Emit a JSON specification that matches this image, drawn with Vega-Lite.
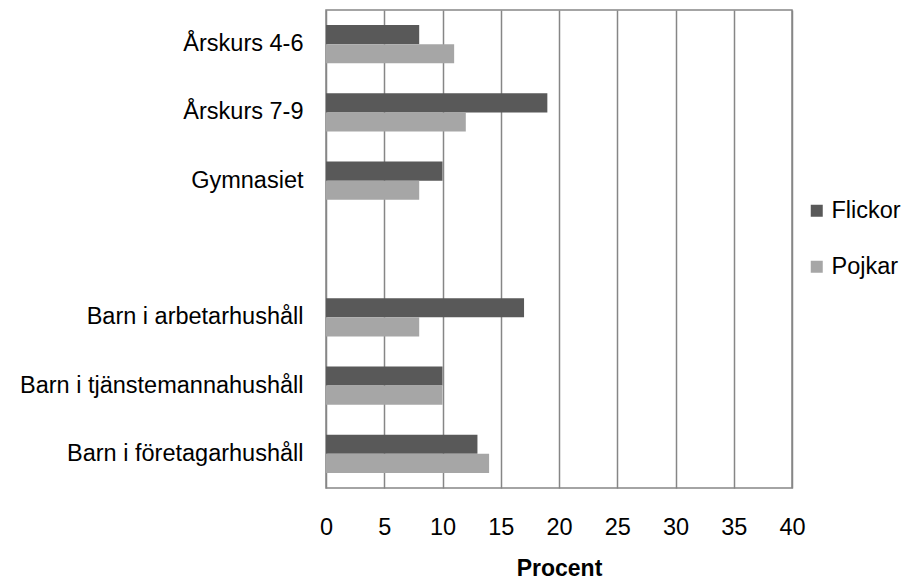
{
  "$schema": "https://vega.github.io/schema/vega-lite/v6.json",
  "width": 466,
  "height": 478,
  "autosize": {"type": "none"},
  "padding": {"left": 326, "top": 10, "right": 109, "bottom": 94},
  "background": "white",
  "data": {
    "values": [
      {"grupp": "Årskurs 4-6", "kon": "Flickor", "procent": 8},
      {"grupp": "Årskurs 4-6", "kon": "Pojkar", "procent": 11},
      {"grupp": "Årskurs 7-9", "kon": "Flickor", "procent": 19},
      {"grupp": "Årskurs 7-9", "kon": "Pojkar", "procent": 12},
      {"grupp": "Gymnasiet", "kon": "Flickor", "procent": 10},
      {"grupp": "Gymnasiet", "kon": "Pojkar", "procent": 8},
      {"grupp": "Barn i arbetarhushåll", "kon": "Flickor", "procent": 17},
      {"grupp": "Barn i arbetarhushåll", "kon": "Pojkar", "procent": 8},
      {"grupp": "Barn i tjänstemannahushåll", "kon": "Flickor", "procent": 10},
      {"grupp": "Barn i tjänstemannahushåll", "kon": "Pojkar", "procent": 10},
      {"grupp": "Barn i företagarhushåll", "kon": "Flickor", "procent": 13},
      {"grupp": "Barn i företagarhushåll", "kon": "Pojkar", "procent": 14}
    ]
  },
  "config": {
    "font": "Liberation Sans",
    "view": {"stroke": "#868686", "strokeWidth": 1.5}
  },
  "mark": {"type": "bar"},
  "encoding": {
    "y": {
      "field": "grupp",
      "type": "nominal",
      "scale": {
        "domain": ["Årskurs 4-6", "Årskurs 7-9", "Gymnasiet", " ", "Barn i arbetarhushåll", "Barn i tjänstemannahushåll", "Barn i företagarhushåll"],
        "paddingInner": 0.44,
        "paddingOuter": 0.22
      },
      "axis": {
        "title": null,
        "ticks": false,
        "domain": false,
        "grid": false,
        "labelPadding": 23,
        "labelLimit": 0,
        "labelFontSize": 23.5,
        "labelColor": "#000000",
        "labelFont": "Liberation Sans"
      }
    },
    "yOffset": {
      "field": "kon",
      "type": "nominal",
      "sort": ["Flickor", "Pojkar"],
      "scale": {"paddingInner": 0, "paddingOuter": 0}
    },
    "x": {
      "field": "procent",
      "type": "quantitative",
      "scale": {"domain": [0, 40], "nice": false},
      "axis": {
        "title": "Procent",
        "values": [0, 5, 10, 15, 20, 25, 30, 35, 40],
        "ticks": false,
        "domain": false,
        "grid": true,
        "gridColor": "#868686",
        "gridWidth": 1.5,
        "labelFlush": false,
        "labelPadding": 27,
        "labelFontSize": 23.5,
        "labelColor": "#000000",
        "labelFont": "Liberation Sans",
        "titleFontSize": 23,
        "titleFont": "Liberation Sans",
        "titleFontWeight": "bold",
        "titleColor": "#000000",
        "titlePadding": 19
      }
    },
    "color": {
      "field": "kon",
      "type": "nominal",
      "scale": {"domain": ["Flickor", "Pojkar"], "range": ["#595959", "#a6a6a6"]},
      "legend": {
        "title": null,
        "orient": "none",
        "legendX": 479,
        "legendY": 189,
        "symbolType": "square",
        "symbolSize": 144,
        "symbolStrokeWidth": 0,
        "labelFontSize": 23.5,
        "labelFont": "Liberation Sans",
        "labelColor": "#000000",
        "labelOffset": 3,
        "rowPadding": 31
      }
    }
  }
}
